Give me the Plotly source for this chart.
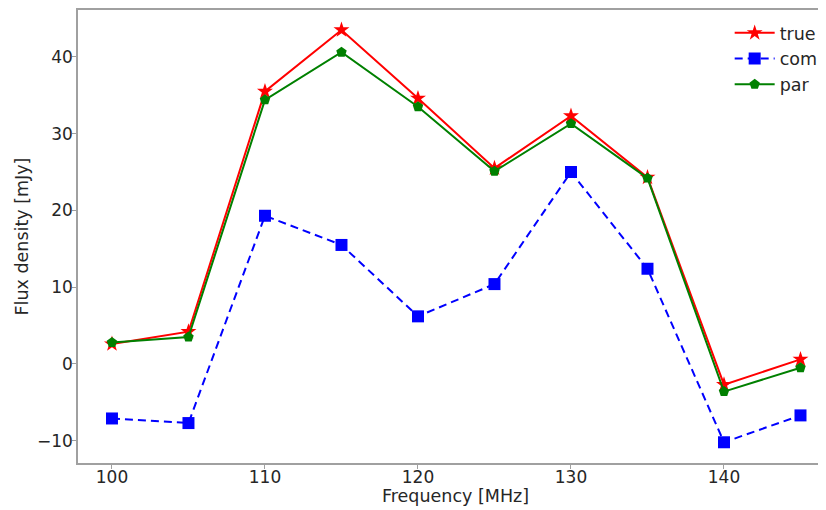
import plotly.graph_objects as go

freq = [100, 105, 110, 115, 120, 125, 130, 135, 140, 145]
true_vals = [2.6, 4.2, 35.5, 43.5, 34.6, 25.5, 32.3, 24.3, -2.7, 0.6]
com_vals = [-7.1, -7.7, 19.3, 15.5, 6.2, 10.4, 25.0, 12.4, -10.2, -6.7]
par_vals = [2.8, 3.5, 34.4, 40.6, 33.5, 25.1, 31.3, 24.2, -3.6, -0.5]

x_ticks = [100, 110, 120, 130, 140]
y_ticks = [-10, 0, 10, 20, 30, 40]

font_family = "DejaVu Sans"
text_color = "#262626"

fig = go.Figure()
fig.add_trace(go.Scatter(
    x=freq, y=true_vals, name="true", mode="lines+markers",
    line=dict(color="#ff0000", width=2),
    marker=dict(symbol="star", size=12, color="#ff0000"),
))
fig.add_trace(go.Scatter(
    x=freq, y=com_vals, name="com", mode="lines+markers",
    line=dict(color="#0000ff", width=2, dash="8px,5px"),
    marker=dict(symbol="square", size=12, color="#0000ff"),
))
fig.add_trace(go.Scatter(
    x=freq, y=par_vals, name="par", mode="lines+markers",
    line=dict(color="#008000", width=2),
    marker=dict(symbol="pentagon", size=11, color="#008000"),
))

fig.update_layout(
    width=826, height=510,
    margin=dict(l=70, r=0, t=2, b=55),
    paper_bgcolor="white", plot_bgcolor="white",
    font=dict(family=font_family, size=17, color=text_color),
    showlegend=True,
    legend=dict(
        x=0.862, y=0.989, xanchor="left", yanchor="top",
        bgcolor="rgba(255,255,255,0)", borderwidth=0,
        font=dict(size=17.5, color=text_color),
        itemwidth=40, tracegroupgap=0,
    ),
    xaxis=dict(
        range=[97.78, 147.19], tickvals=x_ticks,
        showgrid=False, zeroline=False, automargin=False,
        showline=True, linecolor="#a0a0a0", linewidth=1.5, mirror=True,
        ticks="outside", ticklen=4, tickcolor="#a0a0a0",
        tickfont=dict(size=17), ticklabelstandoff=-6,
    ),
    yaxis=dict(
        range=[-12.9, 46.1], tickvals=y_ticks,
        showgrid=False, zeroline=False, automargin=False,
        showline=True, linecolor="#a0a0a0", linewidth=1.5,
        ticks="outside", ticklen=4, tickcolor="#a0a0a0",
        tickfont=dict(size=17), ticklabelstandoff=-4,
    ),
    annotations=[
        dict(text="Frequency [MHz]", xref="paper", yref="paper",
             x=(455 - 78) / 756, y=0, yshift=-33, xanchor="center", yanchor="middle",
             showarrow=False, font=dict(size=17.5, color=text_color)),
        dict(text="Flux density [mJy]", xref="paper", yref="paper",
             x=0, xshift=-57, y=0.5, xanchor="center", yanchor="middle",
             textangle=-90, showarrow=False, font=dict(size=17.5, color=text_color)),
    ],
)

fig.write_html("out.html")
